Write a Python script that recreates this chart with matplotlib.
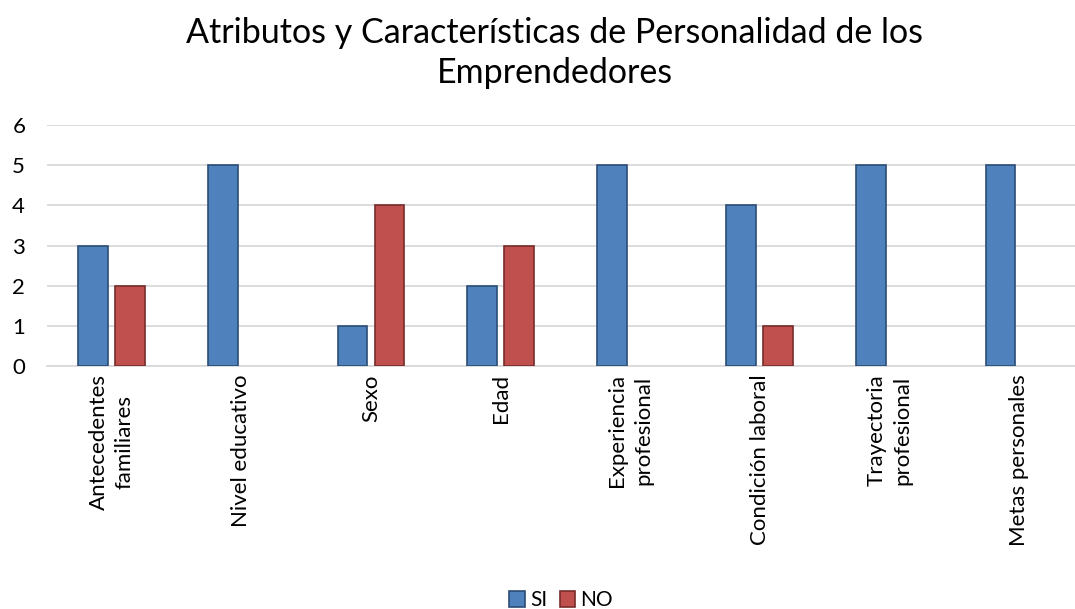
import matplotlib
matplotlib.use('Agg')
import matplotlib.pyplot as plt
import numpy as np

categorias = ["Antecedentes\nfamiliares", "Nivel educativo", "Sexo", "Edad",
              "Experiencia\nprofesional", "Condición laboral",
              "Trayectoria\nprofesional", "Metas personales"]
si = [3, 5, 1, 2, 5, 4, 5, 5]
no = [2, 0, 4, 3, 0, 1, 0, 0]

plt.rcParams['font.family'] = ['Lato', 'DejaVu Sans']

fig = plt.figure(figsize=(10.75, 6.09), dpi=100)
ax = fig.add_axes([0.0437, 0.399, 1 - 0.0437, 0.3957])

x = np.arange(len(categorias))
w = 0.23
# Excel no dibuja barras de valor 0
si_m = np.ma.masked_equal(si, 0)
no_m = np.ma.masked_equal(no, 0)
ax.bar(x - 0.143, si_m, w, color="#4F81BD", edgecolor="#2C4D75", linewidth=1.2, label="SI", zorder=3)
ax.bar(x + 0.143, no_m, w, color="#C0504D", edgecolor="#772C2A", linewidth=1.2, label="NO", zorder=3)

# el área del gráfico sigue más allá del borde derecho
ax.set_xlim(-0.5, -0.5 + 1028 / 129.6)
ax.set_ylim(0, 6)
ax.set_yticks(range(7))
ax.grid(axis='y', color="#D9D9D9", linewidth=1.3, zorder=0)
for s in ['top', 'right', 'left']:
    ax.spines[s].set_visible(False)
ax.spines['bottom'].set_color("#D9D9D9")
ax.spines['bottom'].set_linewidth(1.3)
ax.tick_params(axis='both', length=0, labelsize=16, pad=6)
ax.set_xticks(x)
ax.set_xticklabels(categorias, rotation=90, ha='center', va='top', multialignment='center',
                   linespacing=1.4)
ax.tick_params(axis='y', pad=25)
for t in ax.get_yticklabels():
    t.set_horizontalalignment('left')

fig.text(0.516, 1 - 17 / 609, "Atributos y Características de Personalidad de los\nEmprendedores",
         fontsize=24.5, ha='center', va='top', linespacing=1.3)
fig.legend(loc='lower center', ncol=2, frameon=False, fontsize=15,
           handlelength=0.75, handleheight=0.75, handletextpad=0.25, columnspacing=0.6,
           bbox_to_anchor=(0.522, -0.033))

fig.savefig("out.png", dpi=100)
